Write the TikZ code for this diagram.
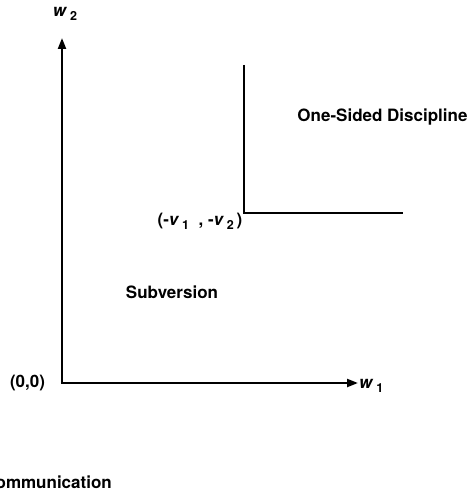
\documentclass[tikz,border=0pt]{standalone}
\usepackage{fontspec}
\setmainfont{TeX Gyre Heros}
\usetikzlibrary{arrows.meta}
\newcommand{\vsub}[2]{\textbf{\textit{#1}}\,\raisebox{-0.4ex}{\fontsize{12.5}{14}\selectfont\bfseries #2}}
\begin{document}
\begin{tikzpicture}[x=1pt,y=-1pt,
  lbl/.style={font=\fontsize{17}{19}\selectfont\bfseries, inner sep=0pt},
  axis/.style={line width=2.2pt, -{Triangle[length=11pt,width=8pt]}},
  bound/.style={line width=2.2pt}]
\useasboundingbox (0,0) rectangle (471,492);
\coordinate (O) at (62,383);
\coordinate (Ytip) at (62,38);
\coordinate (Xtip) at (358,383);
\coordinate (Ctop) at (244,65);
\coordinate (C) at (244,213);
\coordinate (Cright) at (403,213);
\draw[axis] (O) -- (Ytip);
\draw[axis] ([xshift=-1.1pt]O) -- (Xtip);
\draw[bound] (Ctop) -- (C) -- (Cright);
\node[lbl] (w2) at (65,14) {\vsub{w}{2}};
\node[lbl, anchor=west] (w1) at (359,386) {\vsub{w}{1}};
\node[lbl] (orig) at (27.5,383) {(0,0)};
\node[lbl] (v) at (200,221) {(-\vsub{v}{1}\ \ , -\vsub{v}{2}\,)};
\node[lbl] (osd) at (382.5,117) {One-Sided Discipline};
\node[lbl] (sub) at (172,292) {Subversion};
\node[lbl, anchor=east] (comm) at (112,482) {Communication};
\end{tikzpicture}
\end{document}
